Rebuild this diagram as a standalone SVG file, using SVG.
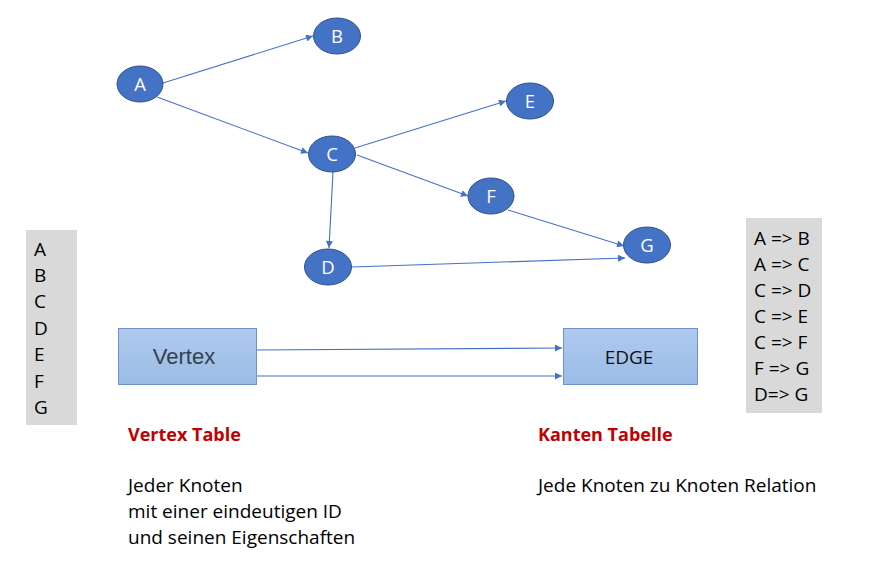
<svg xmlns="http://www.w3.org/2000/svg" width="892" height="564" viewBox="0 0 892 564">
<style>
.node ellipse{fill:#4472C4;stroke:#2F528F;stroke-width:1}
.node text{fill:#fff;font-family:"Open Sans","Liberation Sans",sans-serif;font-size:18.5px;text-anchor:middle}
.edge{stroke:#4472C4;stroke-width:1.1;fill:none;marker-end:url(#arr)}
.box rect{fill:url(#bg);stroke:#6F93C9;stroke-width:1}
.list{fill:#D9D9D9}
.t{font-family:"Open Sans","Liberation Sans",sans-serif;font-size:19px;fill:#000}
.h{font-family:"Open Sans","Liberation Sans",sans-serif;font-size:18px;font-weight:bold;fill:#C00000}
</style>
<defs>
<marker id="arr" viewBox="0 0 10 10" refX="10" refY="5" markerWidth="8" markerHeight="7" markerUnits="userSpaceOnUse" orient="auto">
<path d="M0,0L10,5L0,10z" fill="#4472C4"/>
</marker>
<linearGradient id="bg" x1="0" y1="0" x2="0" y2="1">
<stop offset="0" stop-color="#B0C9EE"/>
<stop offset="1" stop-color="#99BCE6"/>
</linearGradient>
</defs>
<rect width="892" height="564" fill="#fff"/>
<g id="connectors">
<line class="edge" x1="163" y1="83" x2="313" y2="36"/>
<line class="edge" x1="157" y1="97" x2="308" y2="153"/>
<line class="edge" x1="355" y1="148" x2="506" y2="101"/>
<line class="edge" x1="357" y1="155" x2="468" y2="196"/>
<line class="edge" x1="333" y1="172" x2="329" y2="248"/>
<line class="edge" x1="508" y1="210" x2="624" y2="246"/>
<line class="edge" x1="352" y1="267" x2="625" y2="258"/>
<line class="edge" x1="257" y1="350" x2="562" y2="348"/>
<line class="edge" x1="257" y1="376" x2="562" y2="376"/>
</g>
<g id="A" class="node"><ellipse cx="140" cy="84" rx="23" ry="18"/><text x="140" y="91">A</text></g>
<g id="B" class="node"><ellipse cx="337" cy="36" rx="23.5" ry="18"/><text x="337" y="43">B</text></g>
<g id="C" class="node"><ellipse cx="332" cy="154" rx="23.5" ry="18"/><text x="332" y="161">C</text></g>
<g id="E" class="node"><ellipse cx="530" cy="101" rx="23.5" ry="18"/><text x="530" y="108">E</text></g>
<g id="F" class="node"><ellipse cx="491" cy="196" rx="23" ry="18"/><text x="491" y="203">F</text></g>
<g id="G" class="node"><ellipse cx="647" cy="245" rx="23.5" ry="18"/><text x="647" y="252">G</text></g>
<g id="D" class="node"><ellipse cx="328" cy="267" rx="23.5" ry="18"/><text x="328" y="274">D</text></g>
<g id="vertex" class="box"><rect x="118.5" y="328.5" width="138" height="56"/><text x="184" y="364" font-family="Liberation Sans, Arial, sans-serif" font-size="22" fill="#333F4F" text-anchor="middle">Vertex</text></g>
<g id="edge" class="box"><rect x="563.5" y="328.5" width="134" height="56"/><text x="629" y="364" font-family="Open Sans, Liberation Sans, sans-serif" font-size="19" fill="#111" text-anchor="middle">EDGE</text></g>
<g id="vertexList">
<rect class="list" x="26" y="230" width="51" height="195"/>
<text class="t" x="34" y="256">A</text>
<text class="t" x="34" y="282">B</text>
<text class="t" x="34" y="308">C</text>
<text class="t" x="34" y="335">D</text>
<text class="t" x="34" y="361">E</text>
<text class="t" x="34" y="388">F</text>
<text class="t" x="34" y="414">G</text>
</g>
<g id="edgeList">
<rect class="list" x="746" y="218" width="76" height="195"/>
<text class="t" x="754" y="245">A =&gt; B</text>
<text class="t" x="754" y="271">A =&gt; C</text>
<text class="t" x="754" y="297">C =&gt; D</text>
<text class="t" x="754" y="323">C =&gt; E</text>
<text class="t" x="754" y="349">C =&gt; F</text>
<text class="t" x="754" y="375">F =&gt; G</text>
<text class="t" x="754" y="401">D=&gt; G</text>
</g>
<g id="captions">
<text class="h" x="128" y="441">Vertex Table</text>
<text class="t" x="128" y="492">Jeder Knoten</text>
<text class="t" x="128" y="518">mit einer eindeutigen ID</text>
<text class="t" x="128" y="544">und seinen Eigenschaften</text>
<text class="h" x="538" y="441">Kanten Tabelle</text>
<text class="t" x="538" y="492">Jede Knoten zu Knoten Relation</text>
</g>
</svg>
